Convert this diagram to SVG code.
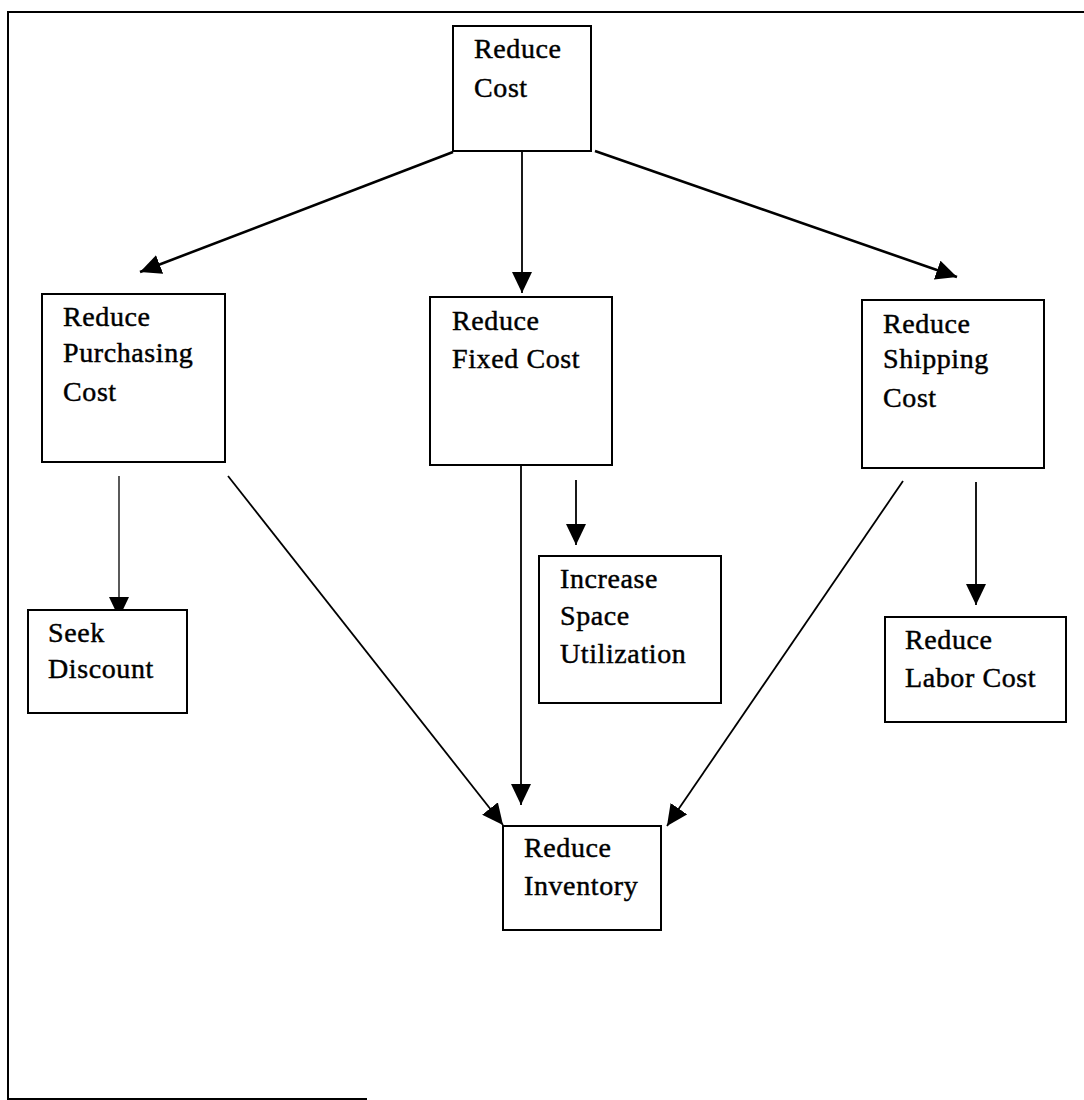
<svg xmlns="http://www.w3.org/2000/svg" width="1084" height="1100" viewBox="0 0 1084 1100">
  <defs>
    <marker id="arrow" markerUnits="userSpaceOnUse" markerWidth="22" markerHeight="20" refX="21" refY="10" orient="auto">
      <path d="M0,0 L21,10 L0,20 z" fill="#000"/>
    </marker>
    <style>
      .box { fill: #fff; stroke: #000; stroke-width: 2; }
      .label { font-family: "Liberation Serif", "Times New Roman", serif; font-size: 28px; letter-spacing: 0.6px; fill: #000; stroke: #000; stroke-width: 0.45; }
      .edge { fill: none; stroke: #000; stroke-width: 1.8; marker-end: url(#arrow); }
      .edge.heavy { stroke-width: 2.6; }
      .edge.thin { stroke-width: 1.3; }
      .frame { fill: none; stroke: #000; stroke-width: 2; }
    </style>
  </defs>

  <rect width="1084" height="1100" fill="#fff"/>

  <!-- page frame (partial) -->
  <g id="frame">
    <path class="frame" d="M1084,12 L8,12 L8,1099 L367,1099"/>
  </g>

  <!-- connectors -->
  <g id="connectors">
    <line class="edge heavy" x1="453" y1="152" x2="140" y2="272"/>
    <line class="edge" x1="522" y1="152" x2="522" y2="293"/>
    <line class="edge heavy" x1="595" y1="151" x2="957" y2="277"/>
    <line class="edge thin" x1="119" y1="476" x2="119" y2="618"/>
    <line class="edge" x1="228" y1="476" x2="503" y2="825"/>
    <line class="edge" x1="521" y1="461" x2="521" y2="805"/>
    <line class="edge" x1="576" y1="480" x2="576" y2="545"/>
    <line class="edge" x1="903" y1="481" x2="667" y2="826"/>
    <line class="edge" x1="976" y1="482" x2="976" y2="605"/>
  </g>

  <g id="reduce-cost">
    <rect class="box" x="453" y="26" width="138" height="125"/>
    <text class="label" x="474" y="58">Reduce</text>
    <text class="label" x="474" y="97">Cost</text>
  </g>

  <g id="reduce-purchasing-cost">
    <rect class="box" x="42" y="294" width="183" height="168"/>
    <text class="label" x="63" y="326">Reduce</text>
    <text class="label" x="63" y="362">Purchasing</text>
    <text class="label" x="63" y="401">Cost</text>
  </g>

  <g id="reduce-fixed-cost">
    <rect class="box" x="430" y="297" width="182" height="168"/>
    <text class="label" x="452" y="330">Reduce</text>
    <text class="label" x="452" y="368">Fixed Cost</text>
  </g>

  <g id="reduce-shipping-cost">
    <rect class="box" x="862" y="300" width="182" height="168"/>
    <text class="label" x="883" y="333">Reduce</text>
    <text class="label" x="883" y="368">Shipping</text>
    <text class="label" x="883" y="407">Cost</text>
  </g>

  <g id="seek-discount">
    <rect class="box" x="28" y="610" width="159" height="103"/>
    <text class="label" x="48" y="642">Seek</text>
    <text class="label" x="48" y="678">Discount</text>
  </g>

  <g id="increase-space-utilization">
    <rect class="box" x="539" y="556" width="182" height="147"/>
    <text class="label" x="560" y="588">Increase</text>
    <text class="label" x="560" y="625">Space</text>
    <text class="label" x="560" y="663">Utilization</text>
  </g>

  <g id="reduce-labor-cost">
    <rect class="box" x="885" y="617" width="181" height="105"/>
    <text class="label" x="905" y="649">Reduce</text>
    <text class="label" x="905" y="687">Labor Cost</text>
  </g>

  <g id="reduce-inventory">
    <rect class="box" x="503" y="826" width="158" height="104"/>
    <text class="label" x="524" y="857">Reduce</text>
    <text class="label" x="524" y="895">Inventory</text>
  </g>
</svg>
